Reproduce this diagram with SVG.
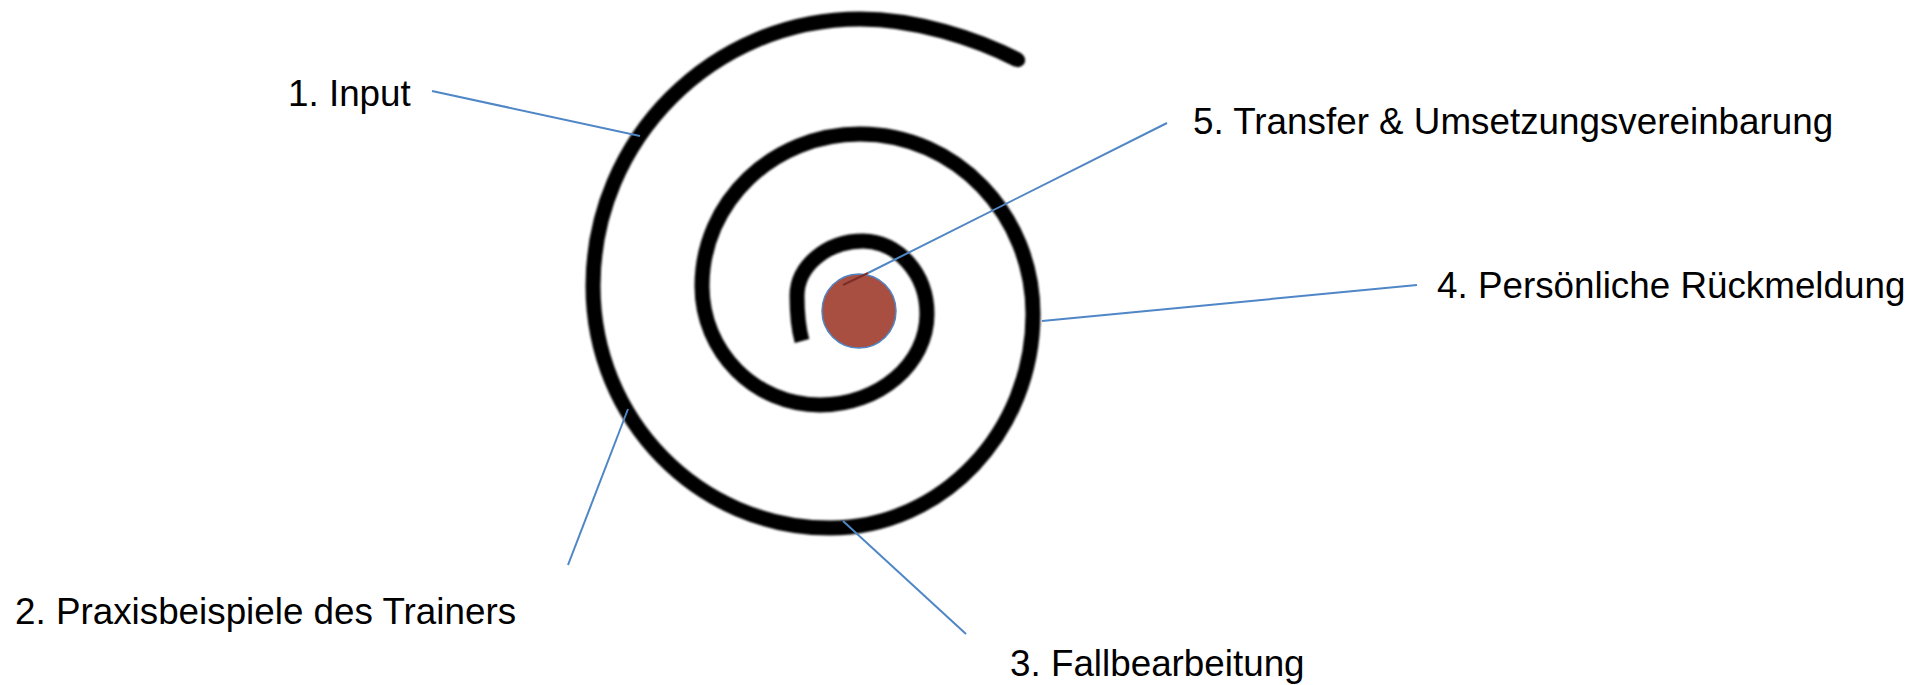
<svg xmlns="http://www.w3.org/2000/svg" width="1919" height="685" viewBox="0 0 1919 685">
<style>
.lbl{font-family:"Liberation Sans",Arial,sans-serif;font-size:36.8px;fill:#000}
.conn{stroke:#4F86C6;stroke-width:2;fill:none}
.spiral{stroke:#000;stroke-width:15;fill:none;stroke-linecap:butt;stroke-linejoin:round}
</style>
<defs>
<filter id="soft" x="-5%" y="-5%" width="110%" height="110%"><feGaussianBlur stdDeviation="0.8"/></filter>
</defs>
<rect width="1919" height="685" fill="#fff"/>
<g id="spiral" filter="url(#soft)">
<path class="spiral" d="M1018,60 C975,38 915,19 860,19 C713,19 593,139 593,286 C593,420 699,528 830,528 C942,528 1033,432 1033,314 C1033,215 956,134 860,134 C773,134 702,202 702,286 C702,352 755,405 820,405 C879,405 927,364 927,314 C927,274 898,241 863,241 C827,241 797,266 797,296 C797,315 799,330 802,341"/>
<circle cx="1018" cy="60" r="7.2" fill="#000"/>
</g>
<g id="center">
<circle cx="859" cy="311" r="37" fill="#A94F42" stroke="#4F86C6" stroke-width="1.5"/>
</g>
<g id="connectors">
<line class="conn" x1="432" y1="91" x2="640" y2="136"/>
<line class="conn" x1="628" y1="409" x2="568" y2="565"/>
<line class="conn" x1="843" y1="521" x2="966" y2="634"/>
<line class="conn" x1="1042" y1="321" x2="1417" y2="285"/>
<line class="conn" x1="1167" y1="123" x2="868" y2="273"/>
<line x1="868" y1="273" x2="843" y2="285" stroke="#7A2E2A" stroke-width="2"/>
</g>
<g id="label1"><text class="lbl" x="288" y="106">1. Input</text></g>
<g id="label2"><text class="lbl" x="15" y="624">2. Praxisbeispiele des Trainers</text></g>
<g id="label3"><text class="lbl" x="1010" y="676">3. Fallbearbeitung</text></g>
<g id="label4"><text class="lbl" x="1437" y="298">4. Persönliche Rückmeldung</text></g>
<g id="label5"><text class="lbl" x="1193" y="134">5. Transfer &amp; Umsetzungsvereinbarung</text></g>
</svg>
